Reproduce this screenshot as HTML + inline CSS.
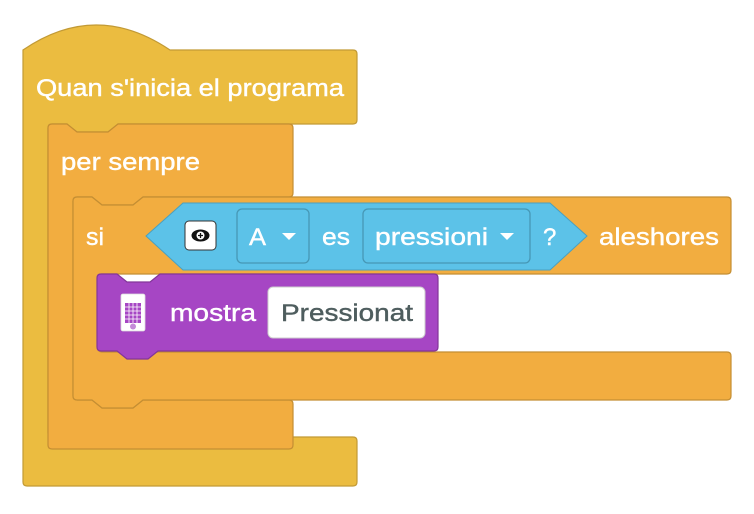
<!DOCTYPE html>
<html><head><meta charset="utf-8"><style>
html,body{margin:0;padding:0;background:#fff;width:754px;height:514px;overflow:hidden}
svg text{font-family:"Liberation Sans",sans-serif;font-size:24px;fill:#fff;stroke:#fff;stroke-width:0.4}
</style></head><body>
<svg width="754" height="514" viewBox="0 0 754 514" xmlns="http://www.w3.org/2000/svg">
<path d="M23,50 Q96,0 170,50 L353,50 Q357,50 357,54 L357,120 Q357,124 353,124 L118,124 L108,132 L77,132 L67,124 L52,124 Q48,124 48,128 L48,433 Q48,437 52,437 L353,437 Q357,437 357,441 L357,482 Q357,486 353,486 L27,486 Q23,486 23,482 Z" fill="#EBBC40" stroke="#C29A35" stroke-width="1.2"/>
<path d="M52,124 L67,124 L77,132 L108,132 L118,124 L289,124 Q293,124 293,128 L293,193 Q293,197 289,197 L143,197 L133,205 L102,205 L92,197 L77,197 Q73,197 73,201 L73,396 Q73,400 77,400 L92,400 L102,408 L133,408 L143,400 L289,400 Q293,400 293,404 L293,445 Q293,449 289,449 L52,449 Q48,449 48,445 L48,128 Q48,124 52,124Z" fill="#F2AD40" stroke="#C48E33" stroke-width="1.2"/>
<path d="M77,197 L92,197 L102,205 L133,205 L143,197 L727,197 Q731,197 731,201 L731,270 Q731,274 727,274 L102,274 Q98,274 98,278 L98,348 Q98,352 102,352 L727,352 Q731,352 731,356 L731,396 Q731,400 727,400 L143,400 L133,408 L102,408 L92,400 L77,400 Q73,400 73,396 L73,201 Q73,197 77,197Z" fill="#F2AD40" stroke="#C48E33" stroke-width="1.2"/>
<path d="M101,274 L117,274 L127,282 L150,282 L160,274 L434,274 Q438,274 438,278 L438,347 Q438,351 434,351 L158,351 L148,359 L127,359 L117,351 L101,351 Q97,351 97,347 L97,278 Q97,274 101,274Z" fill="#A646C4" stroke="#833699" stroke-width="1.2"/>
<path d="M146,236 L183,203 L550,203 L587,236 L550,270 L183,270 Z" fill="#5CC2E8" stroke="#4AA0C0" stroke-width="1"/>
<rect x="185" y="221" width="31" height="29" rx="4" fill="#fff" stroke="#333" stroke-width="1"/>
<ellipse cx="200.5" cy="235.5" rx="9" ry="6" fill="#111"/>
<circle cx="200.5" cy="235.5" r="4" fill="#fff"/>
<path d="M198,235.5h5M200.5,233v5" stroke="#111" stroke-width="1.3"/>
<rect x="237" y="209" width="72" height="54" rx="5" fill="#5CC2E8" stroke="#4697B5" stroke-width="1.3"/>
<rect x="363" y="209" width="167" height="54" rx="5" fill="#5CC2E8" stroke="#4697B5" stroke-width="1.3"/>
<path d="M282,233 L296,233 L289,240Z" fill="#fff"/>
<path d="M500,233 L514,233 L507,240Z" fill="#fff"/>
<rect x="268" y="287" width="157" height="51" rx="5" fill="#fff" stroke="#ccc" stroke-width="1"/>
<rect x="121" y="294" width="24" height="37" rx="2" fill="#fff" stroke="#ddd" stroke-width="0.8"/>
<rect x="125" y="303" width="16" height="20" fill="#A646C4"/>
<path d="M125,307h16M125,311h16M125,315h16M125,319h16M129,303v20M133,303v20M137,303v20" stroke="#fff" stroke-width="0.8"/>
<circle cx="133" cy="326.5" r="3" fill="#C48AD8"/>
<text x="36" y="96" textLength="308" lengthAdjust="spacingAndGlyphs">Quan s'inicia el programa</text>
<text x="61" y="170" textLength="139" lengthAdjust="spacingAndGlyphs">per sempre</text>
<text x="86" y="245" textLength="18" lengthAdjust="spacingAndGlyphs">si</text>
<text x="249" y="245" textLength="17" lengthAdjust="spacingAndGlyphs">A</text>
<text x="322" y="245" textLength="28" lengthAdjust="spacingAndGlyphs">es</text>
<text x="375" y="245" textLength="113" lengthAdjust="spacingAndGlyphs">pressioni</text>
<text x="543" y="245">?</text>
<text x="599" y="245" textLength="120" lengthAdjust="spacingAndGlyphs">aleshores</text>
<text x="170" y="321" textLength="86" lengthAdjust="spacingAndGlyphs">mostra</text>
<text x="281" y="321" textLength="132" lengthAdjust="spacingAndGlyphs" style="fill:#4E5D5E;stroke:#4E5D5E">Pressionat</text>
</svg>
</body></html>
